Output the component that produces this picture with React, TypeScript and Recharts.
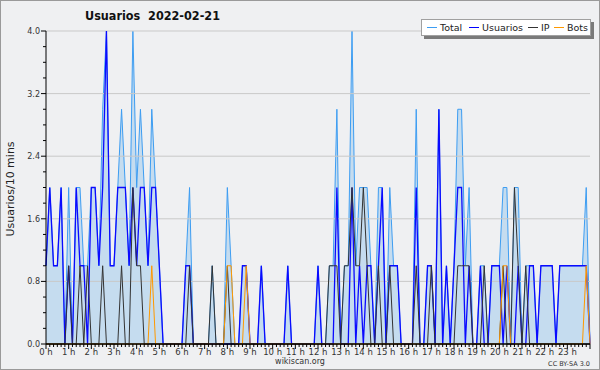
import { ComposedChart, Area, Line, XAxis, YAxis, ReferenceLine } from "recharts";

// one value per 10 minutes, 00:00 .. 24:00
const total = [
  1, 2, 1, 1, 2, 0, 2, 0, 2, 2,
  1, 1, 2, 2, 1, 3, 4, 1, 1, 2,
  3, 2, 1, 4, 2, 3, 2, 1, 3, 2,
  1, 0, 0, 0, 0, 0, 0, 1, 2, 0,
  0, 0, 0, 0, 1, 0, 0, 0, 2, 1,
  0, 0, 1, 1, 0, 0, 0, 1, 0, 0,
  0, 0, 0, 0, 1, 0, 0, 0, 0, 0,
  0, 0, 1, 0, 0, 1, 1, 3, 0, 1,
  1, 4, 1, 2, 2, 2, 1, 0, 2, 2,
  0, 2, 1, 1, 0, 0, 0, 0, 3, 0,
  0, 1, 1, 0, 3, 0, 1, 0, 1, 3,
  3, 1, 2, 0, 0, 1, 1, 0, 1, 1,
  1, 2, 2, 0, 2, 2, 0, 1, 1, 1,
  0, 1, 1, 1, 1, 0, 1, 1, 1, 1,
  1, 1, 1, 2, 0,
];

const usuarios = [
  1, 2, 1, 1, 2, 0, 1, 0, 2, 1,
  1, 0, 2, 2, 1, 2, 4, 1, 1, 2,
  2, 2, 1, 2, 1, 2, 2, 1, 2, 2,
  1, 0, 0, 0, 0, 0, 0, 1, 1, 0,
  0, 0, 0, 0, 0, 0, 0, 0, 0, 0,
  0, 0, 1, 1, 0, 0, 0, 1, 0, 0,
  0, 0, 0, 0, 1, 0, 0, 0, 0, 0,
  0, 0, 1, 0, 0, 0, 0, 2, 0, 0,
  0, 2, 0, 1, 0, 1, 1, 0, 1, 2,
  0, 1, 1, 1, 0, 0, 0, 0, 2, 0,
  0, 1, 1, 0, 3, 0, 1, 0, 1, 2,
  2, 0, 1, 0, 0, 1, 0, 0, 1, 1,
  1, 0, 1, 0, 0, 1, 0, 0, 1, 1,
  0, 1, 1, 1, 1, 0, 1, 1, 1, 1,
  1, 1, 1, 1, 0,
];

const ip = [
  0, 0, 0, 0, 0, 0, 1, 0, 0, 1,
  0, 1, 0, 0, 0, 1, 0, 0, 0, 0,
  1, 0, 0, 2, 1, 1, 0, 0, 0, 0,
  0, 0, 0, 0, 0, 0, 0, 0, 1, 0,
  0, 0, 0, 0, 1, 0, 0, 0, 1, 0,
  0, 0, 0, 0, 0, 0, 0, 0, 0, 0,
  0, 0, 0, 0, 0, 0, 0, 0, 0, 0,
  0, 0, 0, 0, 0, 1, 1, 1, 0, 1,
  1, 2, 1, 1, 2, 1, 0, 0, 1, 0,
  0, 1, 0, 0, 0, 0, 0, 0, 1, 0,
  0, 0, 1, 0, 0, 0, 0, 0, 0, 1,
  1, 1, 1, 0, 0, 0, 1, 0, 0, 0,
  0, 1, 0, 0, 2, 1, 0, 1, 0, 0,
  0, 0, 0, 0, 0, 0, 0, 0, 0, 0,
  0, 0, 0, 0, 0,
];

const bots = [
  0, 0, 0, 0, 0, 0, 0, 0, 0, 0,
  0, 0, 0, 0, 0, 0, 0, 0, 0, 0,
  0, 0, 0, 0, 0, 0, 0, 0, 1, 0,
  0, 0, 0, 0, 0, 0, 0, 0, 0, 0,
  0, 0, 0, 0, 0, 0, 0, 0, 1, 1,
  0, 0, 0, 1, 0, 0, 0, 0, 0, 0,
  0, 0, 0, 0, 0, 0, 0, 0, 0, 0,
  0, 0, 0, 0, 0, 0, 0, 0, 0, 0,
  0, 0, 0, 0, 0, 0, 0, 0, 0, 0,
  0, 0, 0, 0, 0, 0, 0, 0, 0, 0,
  0, 0, 0, 0, 0, 0, 0, 0, 0, 0,
  0, 0, 0, 0, 0, 0, 0, 0, 0, 0,
  0, 1, 1, 0, 0, 0, 0, 0, 0, 0,
  0, 0, 0, 0, 0, 0, 0, 0, 0, 0,
  0, 0, 0, 1, 0,
];

const hourLabels = [
  "0 h", "1 h", "2 h", "3 h", "4 h", "5 h", "6 h", "7 h", "8 h", "9 h", "10 h", "11 h",
  "12 h", "13 h", "14 h", "15 h", "16 h", "17 h", "18 h", "19 h", "20 h", "21 h", "22 h", "23 h",
];
const yLabels = ["0.0", "0.8", "1.6", "2.4", "3.2", "4.0"];
const yMajor = [0, 0.8, 1.6, 2.4, 3.2, 4];

const data = total.map((t, i) => ({
  slot: i,
  total: t,
  usuarios: usuarios[i],
  ip: ip[i],
  bots: bots[i],
}));

const xTicks = total.map((_, i) => i);
const yTicks = Array.from({ length: 21 }, (_, k) => k * 0.2);

const font = "'DejaVu Sans', sans-serif";

function XTick({ x, y, payload }: any) {
  const v = payload.value;
  const major = v % 6 === 0;
  return (
    <g>
      <line x1={x} x2={x} y1={y} y2={y + (major ? 5 : 3)} stroke="#000" />
      {major && v < 144 && (
        <text x={x} y={y + 11} textAnchor="middle" fontSize={8.5} fontFamily={font} fill="#333">
          {hourLabels[v / 6]}
        </text>
      )}
    </g>
  );
}

function YTick({ x, y, payload }: any) {
  const v = payload.value;
  const k = Math.round(v / 0.8);
  const major = Math.abs(v / 0.8 - k) < 1e-6;
  return (
    <g>
      <line x1={x - (major ? 5 : 3)} x2={x} y1={y} y2={y} stroke="#000" />
      {major && (
        <text x={x - 6} y={y + 3} textAnchor="end" fontSize={8} fontFamily={font} fill="#333">
          {yLabels[k]}
        </text>
      )}
    </g>
  );
}

const legendItems = [
  { name: "Total", color: "#3d9df2", left: 5, textLeft: 18 },
  { name: "Usuarios", color: "#0000ff", left: 47, textLeft: 60 },
  { name: "IP", color: "#333333", left: 106, textLeft: 119 },
  { name: "Bots", color: "#ff9900", left: 132, textLeft: 145 },
];

export default function App() {
  return (
    <div
      style={{
        position: "fixed",
        left: 0,
        top: 0,
        width: 600,
        height: 370,
        background: "#eff0f2",
        boxShadow: "inset 0 0 0 1px #9a9a9a",
        fontFamily: font,
        overflow: "hidden",
      }}
    >
      <div
        style={{
          position: "absolute",
          left: 85,
          top: 8,
          fontSize: 12.5,
          fontWeight: "bold",
          whiteSpace: "pre",
          color: "#111",
          fontFamily: "'DejaVu Sans Condensed', 'DejaVu Sans', sans-serif",
        }}
      >
        {"Usuarios  2022-02-21"}
      </div>

      <div
        style={{
          position: "absolute",
          left: 10,
          top: 189,
          fontSize: 11,
          color: "#222",
          whiteSpace: "pre",
          transform: "translate(-50%, -50%) rotate(-90deg)",
        }}
      >
        Usuarios/10 mins
      </div>

      <ComposedChart
        width={600}
        height={370}
        data={data}
        margin={{ top: 31, right: 10, bottom: 0, left: 0 }}
        style={{ position: "absolute", left: 0, top: 0 }}
      >
        {yMajor.slice(1).map((v) => (
          <ReferenceLine key={v} y={v} stroke="#c9c9c9" strokeWidth={1} />
        ))}
        <XAxis
          dataKey="slot"
          type="number"
          domain={[0, 144]}
          ticks={xTicks}
          interval={0}
          tick={<XTick />}
          tickSize={0}
          tickMargin={0}
          tickLine={false}
          height={26}
          axisLine={{ stroke: "#000" }}
        />
        <YAxis
          type="number"
          domain={[0, 4]}
          ticks={yTicks}
          interval={0}
          tick={<YTick />}
          tickSize={0}
          tickMargin={0}
          tickLine={false}
          width={46}
          axisLine={{ stroke: "#000" }}
        />
        <Area
          dataKey="total"
          type="linear"
          stroke="#3d9df2"
          strokeWidth={1}
          fill="#c5dcef"
          fillOpacity={1}
          dot={false}
          activeDot={false}
          isAnimationActive={false}
        />
        <Line dataKey="usuarios" type="linear" stroke="#0a0aff" strokeWidth={1.3} dot={false} activeDot={false} isAnimationActive={false} />
        <Line dataKey="ip" type="linear" stroke="#333333" strokeWidth={1} dot={false} activeDot={false} isAnimationActive={false} />
        <Line dataKey="bots" type="linear" stroke="#ff9900" strokeWidth={1} dot={false} activeDot={false} isAnimationActive={false} />
        <ReferenceLine y={0} stroke="#000" strokeWidth={1} />
      </ComposedChart>

      <div
        style={{
          position: "absolute",
          left: 421,
          top: 19,
          width: 170,
          height: 17,
          boxSizing: "border-box",
          background: "#fff",
          border: "1px solid #a0a0a0",
          boxShadow: "3px 3px 0 #7a7a7a",
          fontSize: 9.5,
          color: "#222",
        }}
      >
        {legendItems.map((it) => (
          <div key={it.name}>
            <div
              style={{
                position: "absolute",
                left: it.left,
                top: 7,
                width: 10,
                height: 1,
                background: it.color,
              }}
            />
            <div style={{ position: "absolute", left: it.textLeft, top: 2, whiteSpace: "pre", lineHeight: "11px" }}>
              {it.name}
            </div>
          </div>
        ))}
      </div>

      <div
        style={{
          position: "absolute",
          left: 300,
          top: 357,
          transform: "translateX(-50%)",
          fontSize: 8,
          lineHeight: "10px",
          color: "#333",
        }}
      >
        wikiscan.org
      </div>
      <div style={{ position: "absolute", right: 10, top: 360, fontSize: 6.5, lineHeight: "8px", color: "#333" }}>
        CC BY-SA 3.0
      </div>
    </div>
  );
}
